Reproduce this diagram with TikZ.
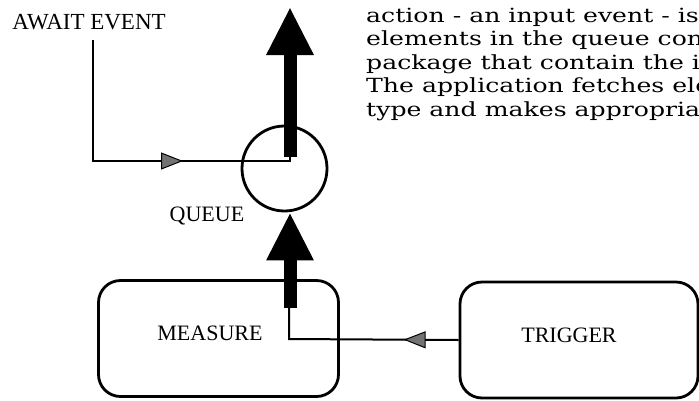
\documentclass[tikz,border=0pt]{standalone}
\usepackage{fontspec}
\newfontfamily\labelfont{Liberation Serif}
\newfontfamily\bodyfont[FakeStretch=1.29]{DejaVu Serif}
\usetikzlibrary{arrows.meta,decorations.markings}
\tikzset{
  procbox/.style={draw, line width=2.8pt, rounded corners=22pt,
    minimum width=240pt, minimum height=116pt, inner sep=0pt},
  tag/.style={font=\labelfont\fontsize{22}{24}\selectfont, inner sep=0pt},
  bodyline/.style={font=\bodyfont\fontsize{19.5}{23.5}\selectfont, inner sep=0pt, anchor=base west},
  thin/.style={line width=2pt, line join=miter},
  fat/.style={line width=13pt, -{Triangle[length=48pt 0, width=44pt 0]}},
  midtip/.style={postaction={decorate, decoration={markings,
    mark=at position #1 with {\arrow{Triangle[length=22pt 0, width=17pt 0, fill=black!55, line width=1pt]}}}}}
}
\begin{document}
\begin{tikzpicture}[x=1pt, y=-1pt]
\useasboundingbox (0,0) rectangle (699,400);
\begin{scope}
\clip (0,0) rectangle (699,400);

% labels
\node[tag, font=\labelfont\fontsize{23}{25}\selectfont] (await) at (89,22) {AWAIT EVENT};
\node[tag] (qlabel) at (207,216) {QUEUE};

% queue and the two processes
\node[draw, circle, line width=2.8pt, minimum size=85pt, inner sep=0pt] (queue) at (284.5,168.5) {};
\node[procbox] (measure) at (218.5,338.5) {};
\node[tag] (mlabel) at (210,333) {MEASURE};
\node[procbox, minimum width=238pt] (trigger) at (579,340) {};
\node[tag] (tlabel) at (569,335) {TRIGGER};

% connector points
\coordinate (afoot) at (93,40);
\coordinate (abend) at (93,161);
\coordinate (qbase) at (290,157);
\coordinate (qout) at (290,7);
\coordinate (tbend) at (289,339);
\coordinate (mbase) at (289,308);

% awaiting an event: into the queue, then out
\draw[thin, midtip=211pt] (afoot) -- (abend) -| (qbase);
\draw[fat] (qbase) -- (qout);

% trigger fires the measure, which feeds the queue
\draw[thin, midtip=55pt] (trigger.west) -- (tbend) -- (mbase);
\draw[fat] ([xshift=1pt]mbase) -- ([xshift=1pt]mbase |- queue.south);

% running text beside the figure
\node[bodyline] (l1) at (366,22) {action - an input event - is};
\node[bodyline] (l2) at (366,45.5) {elements in the queue conta};
\node[bodyline] (l3) at (366,69) {package that contain the in};
\node[bodyline] (l4) at (366,92.5) {The application fetches ele};
\node[bodyline] (l5) at (366,116) {type and makes appropriat};
\end{scope}
\end{tikzpicture}
\end{document}
